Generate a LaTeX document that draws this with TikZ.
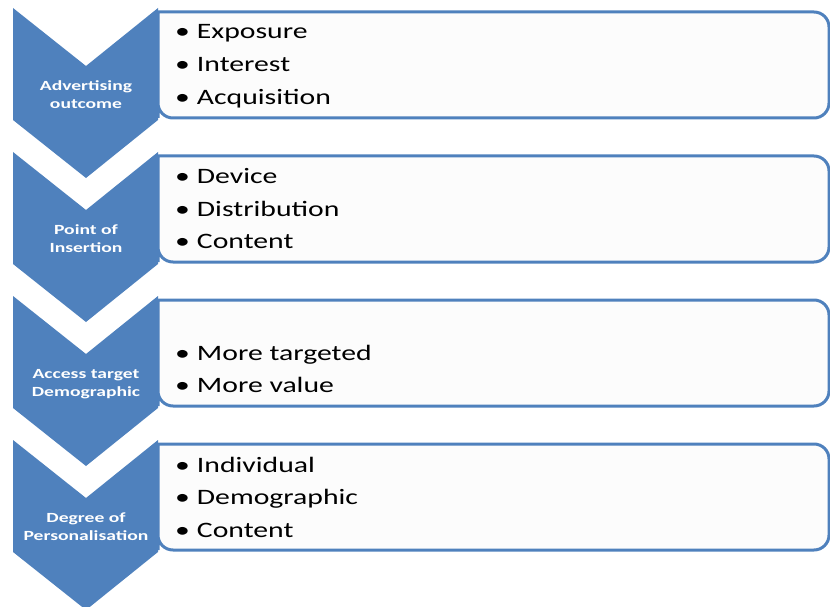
\documentclass[tikz,border=0pt]{standalone}
\usepackage{fontspec}
\setmainfont{Carlito}
\newfontfamily\boxfont[FakeStretch=1.35]{Carlito}
\newfontfamily\chevfont[FakeStretch=1.4]{Carlito Bold}
\definecolor{accent}{HTML}{4F81BD}
\definecolor{boxfill}{HTML}{FCFCFC}
\tikzset{
  chevron/.style={fill=accent, draw=none},
  listbox/.style={fill=boxfill, draw=accent, line width=3pt},
  chevtext/.style={text=white, font=\chevfont\fontsize{14}{18}\selectfont, align=center, inner sep=0pt},
  itemtext/.style={text=black, font=\boxfont\fontsize{22}{24}\selectfont, anchor=base west, inner sep=0pt},
}
\newcommand{\bul}{\textbullet\hspace{7pt}}
\begin{document}
\begin{tikzpicture}[x=1pt,y=-1pt]
\useasboundingbox (0,0) rectangle (830,607);
\foreach \i in {0,1,2,3}{
  \pgfmathsetmacro{\t}{8+144*\i}
  \pgfmathsetmacro{\b}{12+144*\i}
  \draw[listbox] (158,\b+106) -- (158,\b) {[rounded corners=15pt] -- (829,\b) -- (829,\b+106) -- (158,\b+106)} -- cycle;
  \fill[chevron] (13,\t) -- (86,\t+58) -- (158,\t) -- (158,\t+112) -- (86,\t+170) -- (13,\t+112) -- cycle;
}
\node[chevtext] (c1) at (86,95) {Advertising\\outcome};
\node[chevtext] (c2) at (86,239) {Point of\\Insertion};
\node[chevtext] (c3) at (86,384) {Access target\\Demographic};
\node[chevtext] (c4) at (86,527) {Degree of\\Personalisation};
\node[itemtext] (a1) at (175,39) {\bul Exposure};
\node[itemtext] (a2) at (175,72) {\bul Interest};
\node[itemtext] (a3) at (175,105) {\bul Acquisition};
\node[itemtext] (b1) at (175,183) {\bul Device};
\node[itemtext] (b2) at (175,216) {\bul Distribution};
\node[itemtext] (b3) at (175,248) {\bul Content};
\node[itemtext] (d1) at (175,360) {\bul More targeted};
\node[itemtext] (d2) at (175,392) {\bul More value};
\node[itemtext] (e1) at (175,472) {\bul Individual};
\node[itemtext] (e2) at (175,504) {\bul Demographic};
\node[itemtext] (e3) at (175,537) {\bul Content};
\end{tikzpicture}
\end{document}
